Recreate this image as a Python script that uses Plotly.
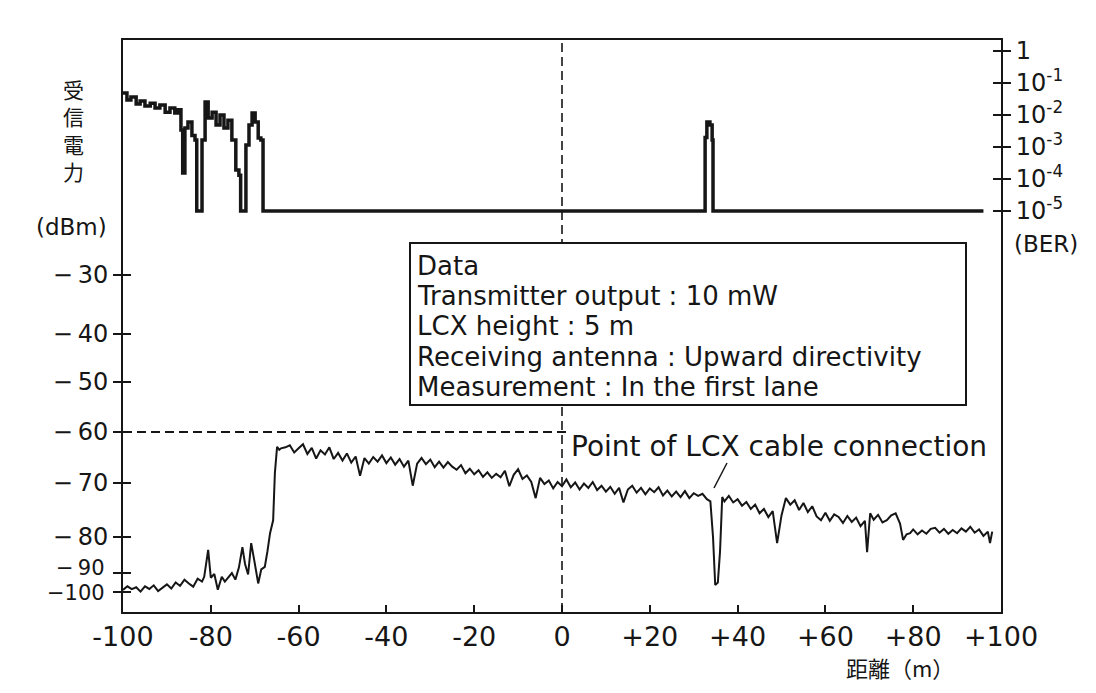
import numpy as np
import plotly.graph_objects as go

# ---------------- data ----------------
X_TICKS = [-100, -80, -60, -40, -20, 0, 20, 40, 60, 80, 100]
X_TICK_TEXT = ["-100", "-80", "-60", "-40", "-20", "0", "+20", "+40", "+60", "+80", "+100"]

DBM_TICKS = [-100, -90, -80, -70, -60, -50, -40, -30]
DBM_TICK_TEXT = ["−100", "−\u200990", "−\u200980", "−\u200970", "−\u200960",
                 "−\u200950", "−\u200940", "−\u200930"]

BER_TICKS = [1, 1e-1, 1e-2, 1e-3, 1e-4, 1e-5]
BER_TICK_TEXT = ["1", "10<sup>-1</sup>", "10<sup>-2</sup>", "10<sup>-3</sup>",
                 "10<sup>-4</sup>", "10<sup>-5</sup>"]

# received power (dBm) vs distance (m)
SIG_DIST_A = [-100, -99, -98, -97, -96, -95, -94, -93, -92, -91,
              -90, -89, -88, -87, -86, -85, -84, -83, -82, -81.5,
              -80.6, -80, -79.2, -78.4, -77.5, -76.8, -76, -75.2, -74.4, -73.6,
              -72.8, -72.2, -71.5, -70.8, -70.1, -69.2, -68.5, -67.7, -67.1, -66.5,
              -65.8, -65.4, -64.9, -64.4, -64]
SIG_DBM_A = [-98.9, -97, -98.5, -97.5, -99.8, -97, -98.4, -96.5, -99.5, -97.8,
             -96, -98.2, -95, -96.8, -93.5, -95.5, -97.2, -93, -94.5, -92,
             -83.6, -92.5, -90.5, -98.8, -92, -94.5, -92.1, -90, -93.5, -88.5,
             -82.8, -87.5, -90.8, -81.7, -86.5, -95.5, -89, -88.3, -84, -79.3,
             -76.9, -68, -62.9, -63.5, -63.2]

SIG_DIST_B = [-63, -62, -61, -60, -59, -58, -57, -56, -55, -54,
              -53, -52, -51, -50, -49, -48, -47, -46, -45, -44,
              -43, -42, -41, -40, -39, -38, -37, -36, -35, -34,
              -33, -32, -31, -30, -29, -28, -27, -26, -25, -24,
              -23, -22, -21, -20, -19, -18, -17, -16, -15, -14,
              -13, -12, -11, -10, -9, -8, -7, -6, -5, -4,
              -3, -2, -1, 0, 1, 2, 3, 4, 5, 6,
              7, 8, 9, 10, 11, 12, 13, 14, 15, 16,
              17, 18, 19, 20, 21, 22, 23, 24, 25, 26,
              27, 28, 29, 30, 31, 32, 33]
SIG_DBM_B = [-63.0, -62.6, -64.0, -63.2, -62.4, -64.3, -63.1, -65.2, -63.6, -64.4,
             -63.0, -65.3, -64.1, -65.6, -64.2, -66.0, -64.8, -68.6, -65.1, -66.2,
             -64.9, -65.8, -64.6, -66.1, -65.0, -66.4, -65.3, -66.8, -65.6, -70.5,
             -66.2, -65.1, -66.3, -65.4, -66.9, -65.8, -67.0, -65.9, -66.8, -67.4,
             -66.5, -68.1, -67.2, -68.3, -67.5, -68.8, -67.9, -69.0, -68.2, -68.9,
             -67.6, -70.6, -68.4, -67.3, -69.2, -68.5, -69.8, -72.8, -69.0, -70.2,
             -69.5, -71.0, -69.8, -70.6, -69.3, -70.8, -69.9, -71.2, -70.1, -70.9,
             -69.8, -71.3, -70.5, -71.6, -70.7, -72.0, -70.9, -73.6, -71.2, -70.5,
             -71.8, -70.9, -72.1, -71.0, -71.7, -70.8, -72.3, -71.4, -72.5, -71.6,
             -72.6, -71.5, -72.8, -71.9, -72.4, -72.0, -73.0]

SIG_DIST_C = [33.8, 34.4, 34.9, 35.5, 36.0, 36.5, 37, 38, 39, 40,
              41, 42, 43, 44, 45, 46, 47, 48, 49, 50,
              51, 52, 53, 54, 55, 56, 57, 58, 59, 60,
              61, 62, 63, 64, 65, 66, 67, 68, 69, 69.5,
              70.2, 71, 72, 73, 74, 75, 76, 77, 77.7, 78.5,
              79.3, 80, 81, 82, 83, 84, 85, 86, 87, 88,
              89, 90, 91, 92, 93, 94, 95, 96, 97, 97.5,
              98]
SIG_DBM_C = [-73.4, -80.0, -96.3, -95.0, -84.0, -72.6, -73.4, -72.4, -73.6, -73.0,
             -74.2, -73.5, -74.8, -74.0, -75.6, -74.8, -76.3, -75.2, -81.7, -76.0,
             -72.8, -74.0, -73.2, -75.0, -73.7, -75.4, -74.3, -76.2, -76.9, -75.5,
             -77.0, -75.8, -76.3, -77.4, -76.1, -77.2, -76.4, -78.0, -77.0, -84.2,
             -75.6, -76.8, -75.9, -77.3, -76.9, -76.0, -75.6, -77.5, -80.8, -79.5,
             -79.3, -78.6, -79.5, -78.8, -79.4, -78.5, -78.3, -79.2, -78.5, -79.4,
             -78.7, -79.3, -78.4, -79.0, -78.1, -79.2, -78.6, -79.8, -79.0, -81.7,
             -79.0]

# bit error rate vs distance (m); 1e-5 is the floor of the scale
BER_DIST = [-100, -99.1, -98.2, -97.0, -96.1, -95.0, -93.8, -92.7, -91.6, -90.4,
            -89.3, -88.2, -87.5, -86.8, -86.4, -85.9, -85.2, -84.3, -83.6, -83.2,
            -82.5, -82.0, -81.3, -80.6, -79.7, -78.8, -77.9, -77.0, -76.1, -75.2,
            -74.3, -73.6, -73.2, -72.4, -72.0, -71.3, -70.6, -69.9, -69.2, -68.6,
            -68.1, 32.3, 32.6, 33.0, 33.7, 34.2, 34.4, 96.0]
BER_VAL = [0.049, 0.0295, 0.0363, 0.0219, 0.0275, 0.0191, 0.0234, 0.0166, 0.0204, 0.0123,
           0.0166, 0.0115, 0.0145, 0.0034, 0.000155, 0.0039, 0.006, 0.0023, 0.00166, 1e-5,
           1e-5, 0.00166, 0.0257, 0.0081, 0.0123, 0.0049, 0.01, 0.0039, 0.0069, 0.00166,
           0.00019, 0.000132, 1e-5, 1e-5, 0.00115, 0.0049, 0.0115, 0.006, 0.0019, 0.00166,
           1e-5, 1e-5, 0.002, 0.006, 0.0049, 0.00166, 1e-5, 1e-5]

INFO_LINES = ["Data",
              "Transmitter output : 10 mW",
              "LCX height : 5 m",
              "Receiving antenna : Upward directivity",
              "Measurement : In the first lane"]
CABLE_NOTE = "Point of LCX cable connection"

# ---------------- layout / scale ----------------
W, H = 1080, 677
L, T = 115, 32
PW, PH = 878, 572
R = W - L - PW
B = H - T - PH

# the printed dBm scale is not uniform: tick positions along the axis (0 = bottom)
DBM_AXIS_POS = [20, 39, 75, 129, 180, 230, 278, 337]


def dbm_scale(v):
    return np.interp(np.asarray(v, dtype=float), DBM_TICKS, DBM_AXIS_POS)


def px(xp):
    return (xp - 8 - L) / PW


def py(yp):
    return 1 - (yp - 8 - T) / PH


BLACK = "#161616"
FONT = "DejaVu Sans"
CJK = "Noto Sans CJK JP"

sig_dist = SIG_DIST_A + SIG_DIST_B + SIG_DIST_C
sig_dbm = SIG_DBM_A + SIG_DBM_B + SIG_DBM_C

# the two lowest labels sit very close together; they are drawn as separate texts
axis_ticktext = [""] * 2 + DBM_TICK_TEXT[2:]

fig = go.Figure()
fig.add_trace(go.Scatter(x=sig_dist, y=dbm_scale(sig_dbm), mode="lines",
                         line=dict(color=BLACK, width=2), yaxis="y",
                         showlegend=False, hoverinfo="skip"))
fig.add_trace(go.Scatter(x=BER_DIST, y=BER_VAL, mode="lines",
                         line=dict(color=BLACK, width=3.5, shape="hv"), yaxis="y2",
                         showlegend=False, hoverinfo="skip"))
fig.add_trace(go.Scatter(x=[None], y=[None], yaxis="y3", showlegend=False))
fig.add_trace(go.Scatter(x=[None], y=[None], yaxis="y4", showlegend=False))

ber_range = [-17.53, 0.344]
tickfont_y = dict(family=FONT, size=24, color=BLACK)

fig.update_layout(
    width=W, height=H,
    margin=dict(l=L, r=R, t=T, b=B, pad=0),
    paper_bgcolor="white", plot_bgcolor="white",
    font=dict(family=FONT, color=BLACK),
    xaxis=dict(range=[-100, 100], tickvals=X_TICKS, ticktext=X_TICK_TEXT,
               ticks="inside", ticklen=7, tickwidth=1.5, tickcolor=BLACK,
               showline=True, linewidth=2, linecolor=BLACK, mirror=True,
               showgrid=False, zeroline=False,
               tickfont=dict(family=FONT, size=27, color=BLACK)),
    yaxis=dict(range=[0, PH], tickvals=list(dbm_scale(DBM_TICKS)), ticktext=axis_ticktext,
               ticks="outside", ticklen=8, tickwidth=1.5, tickcolor=BLACK,
               showline=True, linewidth=2, linecolor=BLACK,
               showgrid=False, zeroline=False, tickfont=tickfont_y),
    yaxis3=dict(range=[0, PH], overlaying="y", side="left",
                tickvals=list(dbm_scale(DBM_TICKS)), showticklabels=False,
                ticks="inside", ticklen=8, tickwidth=1.5, tickcolor=BLACK,
                showline=False, showgrid=False, zeroline=False),
    yaxis2=dict(type="log", range=ber_range, overlaying="y", side="right",
                tickvals=BER_TICKS, ticktext=BER_TICK_TEXT,
                ticks="outside", ticklen=8, tickwidth=1.5, tickcolor=BLACK,
                showline=True, linewidth=2, linecolor=BLACK,
                showgrid=False, zeroline=False, tickfont=tickfont_y),
    yaxis4=dict(type="log", range=ber_range, overlaying="y", side="right",
                tickvals=BER_TICKS, showticklabels=False,
                ticks="inside", ticklen=8, tickwidth=1.5, tickcolor=BLACK,
                showline=False, showgrid=False, zeroline=False),
)

dash = "9px,5px"
shapes = [
    dict(type="line", xref="x", yref="paper", x0=0, x1=0, y0=0, y1=1,
         line=dict(color=BLACK, width=1.6, dash=dash)),
    dict(type="line", xref="x", yref="y", x0=-100, x1=1.5,
         y0=float(dbm_scale(-60)), y1=float(dbm_scale(-60)),
         line=dict(color=BLACK, width=2, dash=dash)),
    dict(type="rect", xref="paper", yref="paper", x0=px(410), x1=px(966),
         y0=py(405), y1=py(243), line=dict(color=BLACK, width=2),
         fillcolor="white", layer="above"),
    dict(type="line", xref="paper", yref="paper", x0=px(727), y0=py(463),
         x1=px(714), y1=py(488), line=dict(color=BLACK, width=1.5)),
]
fig.update_layout(shapes=shapes)

ann = []
# lowest two dBm labels (−100 and −90), nudged apart as in the printed scale
ann.append(dict(text=DBM_TICK_TEXT[0], xref="paper", yref="paper", x=px(106), y=py(593),
                xanchor="right", yanchor="middle", showarrow=False, borderpad=0,
                font=dict(family=FONT, size=21, color=BLACK)))
ann.append(dict(text=DBM_TICK_TEXT[1], xref="paper", yref="paper", x=px(106), y=py(568),
                xanchor="right", yanchor="middle", showarrow=False, borderpad=0,
                font=dict(family=FONT, size=21, color=BLACK)))
for i, line in enumerate(INFO_LINES):
    ann.append(dict(text=line, xref="paper", yref="paper", x=px(416), y=py(265.5 + i * 30.4),
                    xanchor="left", yanchor="middle", showarrow=False, borderpad=0,
                    font=dict(family=FONT, size=26, color=BLACK)))
ann.append(dict(text=CABLE_NOTE, xref="paper", yref="paper", x=px(570), y=py(446),
                xanchor="left", yanchor="middle", showarrow=False, borderpad=0,
                font=dict(family=FONT, size=28, color=BLACK)))
ann.append(dict(text="受<br>信<br>電<br>力", xref="paper", yref="paper", x=px(73), y=py(130),
                xanchor="center", yanchor="middle", showarrow=False, borderpad=0,
                font=dict(family=CJK, size=21, color=BLACK)))
ann.append(dict(text="(dBm)", xref="paper", yref="paper", x=px(71), y=py(227),
                xanchor="center", yanchor="middle", showarrow=False,
                font=dict(family=FONT, size=23, color=BLACK)))
ann.append(dict(text="(BER)", xref="paper", yref="paper", x=px(1046), y=py(244),
                xanchor="center", yanchor="middle", showarrow=False,
                font=dict(family=FONT, size=23, color=BLACK)))
ann.append(dict(text="距離（m）", xref="paper", yref="paper", x=px(900), y=py(667),
                xanchor="center", yanchor="middle", showarrow=False, borderpad=0,
                font=dict(family=CJK, size=22, color=BLACK)))
fig.update_layout(annotations=ann)

fig.write_html("out.html")
